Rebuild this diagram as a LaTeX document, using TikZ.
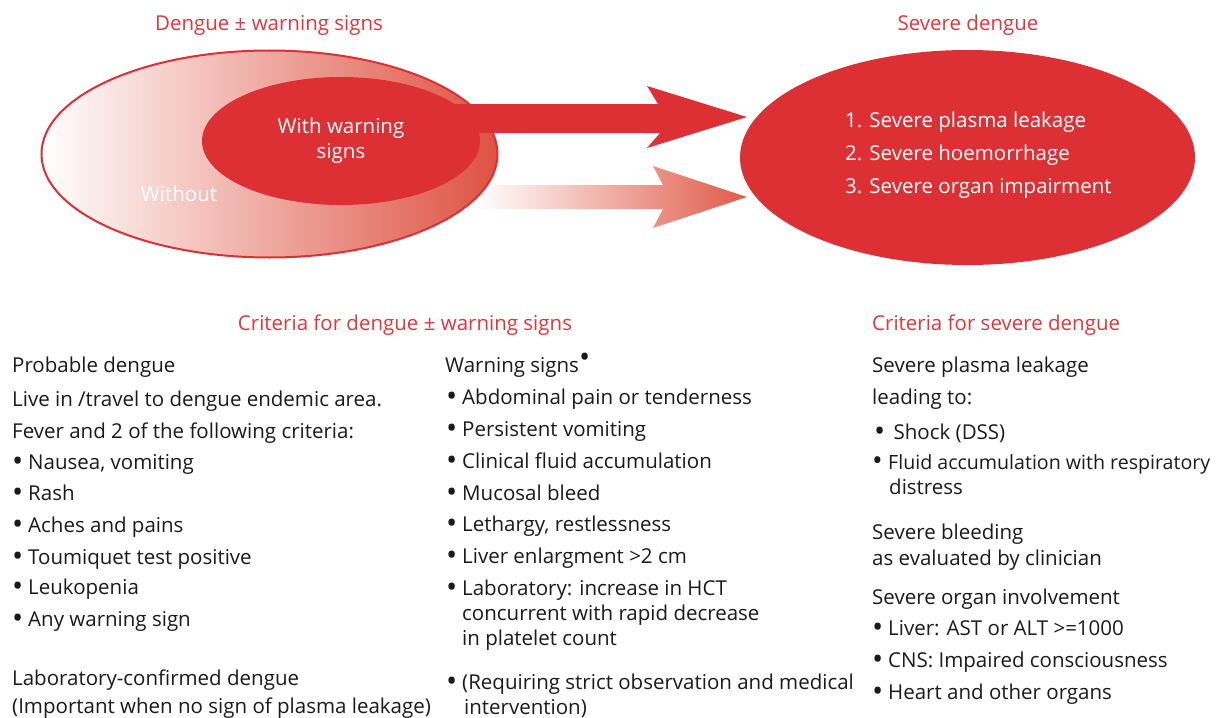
\documentclass[tikz,border=0pt]{standalone}
\usepackage{fontspec}
\setmainfont{Open Sans}
\usetikzlibrary{shapes.geometric}
\definecolor{dred}{HTML}{DC3034}
\definecolor{tred}{HTML}{E0363B}
\definecolor{ored}{HTML}{DE5242}
\definecolor{ared}{HTML}{E05A48}
\definecolor{ink}{HTML}{1A1A1A}
\newcommand{\bigbul}{\raisebox{-0.1em}{\scalebox{1.45}{\textbullet}}}
\begin{document}
\begin{tikzpicture}[x=1pt,y=-1pt,
  fnt/.style={font=\fontsize{20.5}{24}\selectfont},
  txt/.style={fnt,anchor=base west,inner sep=0pt,text=ink},
  ttl/.style={fnt,inner sep=0pt,text=tred},
  wtxt/.style={fnt,inner sep=0pt,text=white,align=center},
  bul/.style={txt,execute at begin node={\makebox[16pt][l]{\bigbul}}}]
\useasboundingbox (0,0) rectangle (1222,717);
% titles
\node[ttl,anchor=base] (t1) at (269,31) {Dengue ± warning signs};
\node[ttl,anchor=base] (t2) at (968,31) {Severe dengue};
% second arrow (behind outer ellipse)
\coordinate (a2) at (478,199);
\shade[left color=white,right color=ared]
  (a2) ++(0,-14) -- ++(185,0) -- ++(-10,-19) -- ++(94,31) -- ++(-94,31)
  -- ++(10,-19) -- ++(-185,0) -- cycle;
% outer ellipse
\node[ellipse,draw=dred,line width=2pt,left color=white,right color=ored,
  minimum width=456pt,minimum height=207pt,inner sep=0pt] (outer) at (269.5,154) {};
% first arrow
\coordinate (a1) at (455,118.5);
\fill[dred] (a1) ++(0,-14.5) -- ++(203,0) -- ++(-11,-18) -- ++(100,31) -- ++(-100,31)
  -- ++(13,-15) -- ++(-205,0) -- cycle;
% inner ellipse
\node[ellipse,fill=dred,minimum width=278pt,minimum height=128pt,inner sep=0pt] (inner) at (341,141) {};
\node[wtxt] (iw) at (341,141) {With warning\\[1pt]signs};
\node[wtxt,anchor=base] (wo) at (179,201) {Without};
% severe ellipse
\node[ellipse,fill=dred,minimum width=455pt,minimum height=215pt,inner sep=0pt] (sev) at (967.5,157.5) {};
\node[wtxt,anchor=base west] (s1) at (845,127) {1. Severe plasma leakage};
\node[wtxt,anchor=base west] (s2) at (845,160) {2. Severe hoemorrhage};
\node[wtxt,anchor=base west] (s3) at (845,193) {3. Severe organ impairment};
% criteria titles
\node[ttl,anchor=base] (c1) at (405,330) {Criteria for dengue ± warning signs};
\node[ttl,anchor=base west] (c2) at (872,330) {Criteria for severe dengue};
% left column
\node[txt] (L1) at (12,372) {Probable dengue};
\node[txt] (L2) at (12,406) {Live in /travel to dengue endemic area.};
\node[txt] (L3) at (12,438) {Fever and 2 of the following criteria:};
\node[bul] (L4) at (12,469) {Nausea, vomiting};
\node[bul] (L5) at (12,500) {Rash};
\node[bul] (L6) at (12,532) {Aches and pains};
\node[bul] (L7) at (12,564) {Toumiquet test positive};
\node[bul] (L8) at (12,594) {Leukopenia};
\node[bul] (L9) at (12,626) {Any warning sign};
\node[txt] (L10) at (12,685) {Laboratory-confirmed dengue};
\node[txt] (L11) at (12,713) {(Important when no sign of plasma leakage)};
% middle column
\node[txt] (M1) at (445,372) {Warning signs\raisebox{0.6ex}{\bigbul}};
\node[bul] (M2) at (446,404) {Abdominal pain or tenderness};
\node[bul] (M3) at (446,436) {Persistent vomiting};
\node[bul] (M4) at (446,468) {Clinical fluid accumulation};
\node[bul] (M5) at (446,500) {Mucosal bleed};
\node[bul] (M6) at (446,531) {Lethargy, restlessness};
\node[bul] (M7) at (446,563) {Liver enlargment >2 cm};
\node[bul] (M8) at (446,595) {Laboratory: increase in HCT};
\node[txt] (M9) at (462,620) {concurrent with rapid decrease};
\node[txt] (M10) at (462,645) {in platelet count};
\node[bul] (M11) at (446,689) {(Requiring strict observation and medical};
\node[txt] (M12) at (464,714) {intervention)};
% right column
\node[txt] (R1) at (872,372) {Severe plasma leakage};
\node[txt] (R2) at (872,404) {leading to:};
\node[bul] (R3) at (874,439) {\,Shock (DSS)};
\node[bul,font=\fontsize{19.6}{24}\selectfont] (R4) at (872,469) {Fluid accumulation with respiratory};
\node[txt] (R5) at (889,494) {distress};
\node[txt] (R6) at (872,539) {Severe bleeding};
\node[txt] (R7) at (872,565) {as evaluated by clinician};
\node[txt] (R8) at (872,604) {Severe organ involvement};
\node[bul] (R9) at (872,635) {Liver: AST or ALT >=1000};
\node[bul] (R10) at (872,667) {CNS: Impaired consciousness};
\node[bul] (R11) at (872,699) {Heart and other organs};
\end{tikzpicture}
\end{document}
